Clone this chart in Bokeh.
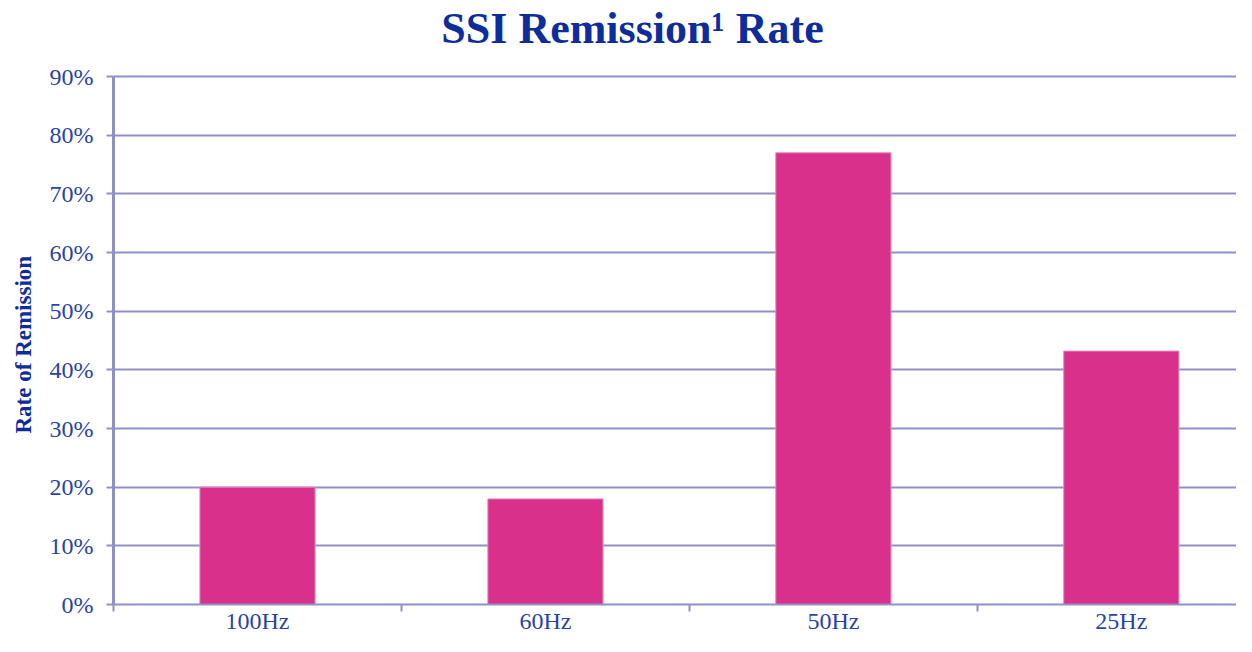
from bokeh.plotting import figure
from bokeh.models import FixedTicker, NumeralTickFormatter, Range1d, ColumnDataSource, Label, Title
from bokeh.embed import file_html
from bokeh.resources import INLINE

# ---- data ----
categories = ["100Hz", "60Hz", "50Hz", "25Hz"]
remission_rate = [0.20, 0.18, 0.77, 0.432]
y_ticks = [0.0, 0.1, 0.2, 0.3, 0.4, 0.5, 0.6, 0.7, 0.8, 0.9]
title_text = "SSI Remission\u00b9 Rate"
y_label = "Rate of Remission"

x_pos = [i + 0.5 for i in range(len(categories))]
boundaries = [float(i) for i in range(len(categories) + 1)]

src = ColumnDataSource(dict(x=x_pos, rate=remission_rate, cat=categories))

GRID = "#9090C4"
TICK_TXT = "#2A44A6"
TITLE_TXT = "#0E2D9C"
BAR = "#D9318B"
SERIF = "Liberation Serif"

y_max = y_ticks[-1]
# frame spans the full height; the headroom above the 90% line holds the title
p = figure(width=1236, height=636, output_backend="svg", toolbar_location=None,
           x_range=Range1d(0, 3.90), y_range=Range1d(0, y_max * 1.144),
           min_border_left=113, min_border_right=0, min_border_top=0,
           min_border_bottom=28)

p.vbar(x="x", top="rate", width=0.4, source=src, fill_color=BAR,
       line_color="#E58CBC", line_width=1)

p.outline_line_color = None
p.background_fill_color = "white"
p.border_fill_color = "white"

# chart title (screen units: x from frame left, y from frame bottom)
p.add_layout(Label(x=519, y=576, x_units="screen", y_units="screen",
                   text=title_text, text_align="center", text_baseline="alphabetic",
                   text_font=SERIF, text_font_style="bold", text_font_size="44px",
                   text_color=TITLE_TXT))

# y-axis title, placed on the left panel next to the axis
p.add_layout(Title(text=y_label, align="left", offset=171, vertical_align="top",
                   standoff=18, text_font=SERIF, text_font_style="bold",
                   text_font_size="23px", text_color=TITLE_TXT), "left")

# grids
p.xgrid.visible = False
p.ygrid.ticker = FixedTicker(ticks=y_ticks)
p.ygrid.grid_line_color = GRID
p.ygrid.grid_line_width = 2

# y axis
p.yaxis.bounds = (0, y_max)
p.yaxis.ticker = FixedTicker(ticks=y_ticks)
p.yaxis.formatter = NumeralTickFormatter(format="0%")
p.yaxis.axis_line_color = GRID
p.yaxis.axis_line_width = 3
p.yaxis.major_tick_line_color = GRID
p.yaxis.major_tick_line_width = 2
p.yaxis.major_tick_out = 7
p.yaxis.major_tick_in = 0
p.yaxis.minor_tick_line_color = None
p.yaxis.major_label_text_font = SERIF
p.yaxis.major_label_text_font_size = "24px"
p.yaxis.major_label_text_color = TICK_TXT
p.yaxis.major_label_standoff = 13

# x axis
p.xaxis.ticker = FixedTicker(ticks=x_pos, minor_ticks=boundaries)
p.xaxis.major_label_overrides = {x: c for x, c in zip(x_pos, categories)}
p.xaxis.axis_line_color = GRID
p.xaxis.axis_line_width = 2
p.xaxis.major_tick_line_color = None
p.xaxis.major_tick_out = 0
p.xaxis.major_tick_in = 0
p.xaxis.minor_tick_line_color = GRID
p.xaxis.minor_tick_line_width = 2
p.xaxis.minor_tick_out = 7
p.xaxis.minor_tick_in = 0
p.xaxis.major_label_text_font = SERIF
p.xaxis.major_label_text_font_size = "24px"
p.xaxis.major_label_text_color = TICK_TXT
p.xaxis.major_label_standoff = -4

open("out.html", "w").write(file_html(p, INLINE))
